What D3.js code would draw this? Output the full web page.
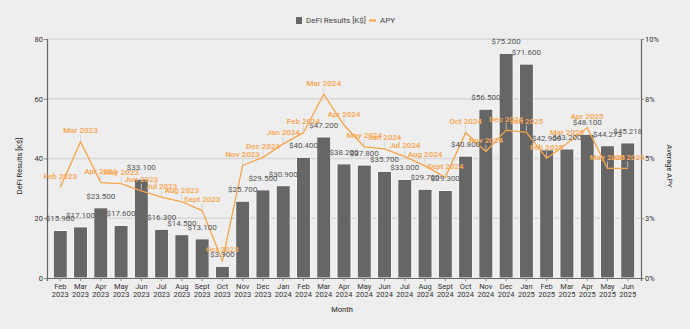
<!DOCTYPE html>
<html>
<head>
<meta charset="utf-8">
<script src="https://cdn.jsdelivr.net/npm/d3@7"></script>
<style>
  html, body { margin: 0; padding: 0; background: #eeeeee; }
  svg { display: block; font-family: Roboto, "Noto Sans", sans-serif; }
</style>
</head>
<body>
<svg id="chart" width="690" height="329"></svg>
<script>
// Monthly DeFi results (K$) and average APY (%)
const months = ["Feb 2023","Mar 2023","Apr 2023","May 2023","Jun 2023","Jul 2023","Aug 2023","Sept 2023","Oct 2023","Nov 2023","Dec 2023",
  "Jan 2024","Feb 2024","Mar 2024","Apr 2024","May 2024","Jun 2024","Jul 2024","Aug 2024","Sept 2024","Oct 2024","Nov 2024","Dec 2024",
  "Jan 2025","Feb 2025","Mar 2025","Apr 2025","May 2025","Jun 2025"];
const results = [15.9, 17.1, 23.5, 17.6, 33.1, 16.3, 14.5, 13.1, 3.9, 25.7, 29.5,
  30.9, 40.4, 47.2, 38.2, 37.8, 35.7, 33.0, 29.7, 29.3, 40.8, 56.5, 75.2,
  71.6, 42.9, 43.2, 48.1, 44.273, 45.218];
const apy = [3.79, 5.70, 3.99, 3.95, 3.65, 3.38, 3.19, 2.82, 0.72, 4.71, 5.05,
  5.61, 6.08, 7.69, 6.40, 5.49, 5.40, 5.08, 4.69, 4.21, 6.08, 5.29, 6.19,
  6.09, 5.01, 5.63, 6.29, 4.59, 4.59];
const leftTicks = [0, 20, 40, 60, 80];
const rightTicks = [0, 2.5, 5, 7.5, 10];

const svg = d3.select("#chart");
const plotLeft = 47, plotRight = 641, plotTop = 39, plotBottom = 278;

const x = d3.scaleBand().domain(months).range([plotLeft, plotRight]).padding(0.31);
const y = d3.scaleLinear().domain([0, 80]).range([plotBottom, plotTop]);
const y2 = d3.scaleLinear().domain([0, 10]).range([plotBottom, plotTop]);
const cx = i => x(months[i]) + x.bandwidth() / 2;

// horizontal grid
svg.append("g").selectAll("line").data(leftTicks.slice(1)).join("line")
  .attr("x1", plotLeft).attr("x2", plotRight)
  .attr("y1", d => y(d)).attr("y2", d => y(d))
  .attr("stroke", "#d8d8d8").attr("stroke-width", 1.5);

// bars
svg.append("g").selectAll("rect").data(results).join("rect")
  .attr("x", (d, i) => x(months[i]))
  .attr("y", d => y(d))
  .attr("width", x.bandwidth())
  .attr("height", d => y(0) - y(d))
  .attr("fill", "#666666")
  .attr("stroke", "#fbfbfb").attr("stroke-width", 1);

// axes
const gl = svg.append("g").attr("transform", `translate(${plotLeft},0)`)
  .call(d3.axisLeft(y).tickValues(leftTicks).tickSize(3).tickFormat(d3.format("d")));
const gr = svg.append("g").attr("transform", `translate(${plotRight},0)`)
  .call(d3.axisRight(y2).tickValues(rightTicks).tickSize(3).tickFormat(d => Math.round(d) + "%"));
const gb = svg.append("g").attr("transform", `translate(0,${plotBottom})`)
  .call(d3.axisBottom(x).tickSize(3).tickFormat(""));

[gl, gr, gb].forEach(g => {
  g.select(".domain").attr("stroke", "#666").attr("stroke-width", 1.2);
  g.selectAll(".tick line").attr("stroke", "#888");
  g.selectAll(".tick text").attr("fill", "#333").attr("font-size", 7.5)
    .attr("font-family", "Roboto, sans-serif");
});
gl.selectAll(".tick text").attr("x", -4);
gr.selectAll(".tick text").attr("x", 4);

// two-line month labels
gb.selectAll(".tick").each(function(d) {
  const parts = d.split(" ");
  const t = d3.select(this).append("text")
    .attr("fill", "#333").attr("font-size", 7.5).attr("text-anchor", "middle")
    .attr("font-family", "Roboto, sans-serif");
  t.append("tspan").attr("x", 0).attr("y", 10.5).text(parts[0]);
  t.append("tspan").attr("x", 0).attr("y", 18.5).text(parts[1]);
});

// APY line
const line = d3.line().x((d, i) => cx(i)).y(d => y2(d));
svg.append("path").datum(apy)
  .attr("d", line).attr("fill", "none")
  .attr("stroke", "#f5a54a").attr("stroke-width", 1.3);

// bar value labels
svg.append("g").selectAll("text").data(results).join("text")
  .attr("x", (d, i) => cx(i))
  .attr("y", d => y(d) - 9)
  .attr("text-anchor", "middle")
  .attr("font-size", 8).attr("fill", "#555")
  .text(d => "$" + d.toFixed(3));

// APY point labels with short leaders
const ann = svg.append("g");
ann.selectAll("line").data(apy).join("line")
  .attr("x1", (d, i) => cx(i)).attr("x2", (d, i) => cx(i))
  .attr("y1", d => y2(d) - 1).attr("y2", d => y2(d) - 7)
  .attr("stroke", "#d0d0d0").attr("stroke-width", 0.8);
ann.selectAll("text").data(apy).join("text")
  .attr("x", (d, i) => cx(i))
  .attr("y", d => y2(d) - 8.5)
  .attr("text-anchor", "middle")
  .attr("font-size", 8).attr("font-weight", 600).attr("fill", "#f7a957")
  .text((d, i) => months[i]);

// axis titles
svg.append("text").attr("x", 342).attr("y", 312).attr("text-anchor", "middle")
  .attr("font-size", 7.5).attr("fill", "#222").text("Month");
svg.append("text").attr("transform", "translate(22,166) rotate(-90)").attr("text-anchor", "middle")
  .attr("font-size", 7.5).attr("fill", "#222").text("DeFi Results [K$]");
svg.append("text").attr("transform", "translate(667,166) rotate(90)").attr("text-anchor", "middle")
  .attr("font-size", 7.5).attr("fill", "#222").text("Average APY");

// legend
const lg = svg.append("g");
lg.append("rect").attr("x", 296).attr("y", 17).attr("width", 6).attr("height", 7).attr("fill", "#666");
lg.append("text").attr("x", 306).attr("y", 23).attr("font-size", 8).attr("fill", "#444").text("DeFi Results [K$]");
lg.append("line").attr("x1", 369).attr("x2", 376).attr("y1", 20.5).attr("y2", 20.5)
  .attr("stroke", "#f5a54a").attr("stroke-width", 2);
lg.append("text").attr("x", 380).attr("y", 23).attr("font-size", 8).attr("fill", "#444").text("APY");
</script>
</body>
</html>
